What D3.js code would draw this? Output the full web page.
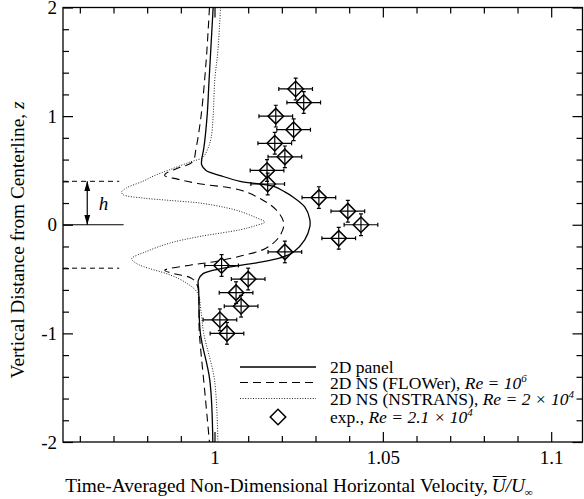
<!DOCTYPE html>
<html>
<head>
<meta charset="utf-8">
<script src="https://cdn.jsdelivr.net/npm/d3@7"></script>
<style>
  body { margin: 0; background: #fff; }
  svg { display: block; }
  text { font-family: "Liberation Serif", "Times New Roman", serif; fill: #000; }
</style>
</head>
<body>
<svg id="chart" width="584" height="499"></svg>
<script>
// Velocity profiles: vertical position z and time-averaged U/U_inf
const panelZ = [2.0, 1.34, 1.0, 0.7, 0.6, 0.55, 0.5, 0.45, 0.4, 0.355, 0.3, 0.256, 0.164, 0.05, -0.02, -0.14, -0.25, -0.3, -0.35, -0.4, -0.45, -0.51, -0.6, -1.0, -1.43, -2.0];
const panelU = [0.9996, 0.9984, 0.9978, 0.9968, 0.9962, 0.9962, 0.9975, 1.002, 1.0076, 1.0174, 1.021, 1.0233, 1.0268, 1.0283, 1.0283, 1.0268, 1.0235, 1.0200, 1.0125, 1.0026, 0.9966, 0.9952, 0.9953, 0.9958, 0.9986, 0.9995];

const flowerZ = [2.0, 1.5, 1.0, 0.7, 0.58, 0.52, 0.47, 0.452, 0.42, 0.38, 0.32, 0.226, 0.134, 0.01, -0.12, -0.22, -0.29, -0.34, -0.37, -0.42, -0.45, -0.49, -0.55, -1.0, -1.5, -2.0];
const flowerU = [0.9985, 0.9975, 0.9960, 0.9945, 0.9935, 0.989, 0.9855, 0.9852, 0.989, 0.995, 1.0076, 1.0144, 1.0184, 1.0206, 1.019, 1.015, 1.0075, 1.0, 0.993, 0.9852, 0.988, 0.993, 0.9948, 0.9955, 0.997, 0.9985];

const nstransZ = [2.0, 1.6, 1.34, 1.0, 0.8, 0.7, 0.62, 0.58, 0.507, 0.45, 0.4, 0.338, 0.3, 0.276, 0.246, 0.224, 0.2, 0.16, 0.123, 0.07, 0.025, -0.01, -0.046, -0.108, -0.169, -0.246, -0.313, -0.35, -0.384, -0.461, -0.537, -0.63, -0.8, -1.0, -1.43, -2.0];
const nstransU = [1.0018, 1.001, 1.0001, 0.9996, 0.999, 0.998, 0.9965, 0.993, 0.9867, 0.982, 0.9787, 0.9738, 0.9724, 0.9729, 0.9787, 0.9867, 0.9956, 1.003, 1.0076, 1.012, 1.0149, 1.012, 1.0076, 0.9956, 0.9867, 0.9798, 0.9754, 0.9765, 0.9788, 0.9867, 0.9917, 0.995, 0.996, 0.9968, 1.0, 1.001];

// Experiment, Re = 2.1e4
const expZ = [1.25, 1.125, 1.0, 0.875, 0.75, 0.625, 0.5, 0.375, 0.25, 0.125, 0.0, -0.125, -0.25, -0.375, -0.5, -0.625, -0.75, -0.875, -1.0];
const expU = [1.0241, 1.0265, 1.0182, 1.0235, 1.0179, 1.0209, 1.0156, 1.0158, 1.0310, 1.0396, 1.0435, 1.0369, 1.0209, 1.0021, 1.0100, 1.0064, 1.0079, 1.0016, 1.0037];
const expUErr = [0.005, 0.005, 0.005, 0.005, 0.005, 0.005, 0.005, 0.005, 0.005, 0.005, 0.005, 0.005, 0.005, 0.005, 0.005, 0.005, 0.005, 0.005, 0.005];
const expZErr = [0.1, 0.1, 0.1, 0.1, 0.1, 0.1, 0.1, 0.1, 0.1, 0.1, 0.1, 0.1, 0.1, 0.1, 0.1, 0.1, 0.1, 0.1, 0.1];

// Axes
const xDomain = [0.955, 1.1093];
const yDomain = [-2, 2];
const xMajor = [1, 1.05, 1.1];
const xMinor = [0.96, 0.97, 0.98, 0.99, 1.01, 1.02, 1.03, 1.04, 1.06, 1.07, 1.08, 1.09];
const xTickLabels = ["1", "1.05", "1.1"];
const yMajor = [-2, -1, 0, 1, 2];
const yMinor = [-1.8, -1.6, -1.4, -1.2, -0.8, -0.6, -0.4, -0.2, 0.2, 0.4, 0.6, 0.8, 1.2, 1.4, 1.6, 1.8];
const yTickLabels = ["-2", "-1", "0", "1", "2"];

// Gap height annotation
const gapH = 0.4;

const svg = d3.select("#chart");
const W = 584, H = 499;
const plot = { left: 63, right: 582.5, top: 7.5, bottom: 442 };

const x = d3.scaleLinear().domain(xDomain).range([plot.left, plot.right]);
const y = d3.scaleLinear().domain(yDomain).range([plot.bottom, plot.top]);

svg.append("rect").attr("width", W).attr("height", H).attr("fill", "#fff");

const defs = svg.append("defs");
defs.append("clipPath").attr("id", "clip")
  .append("rect").attr("x", plot.left).attr("y", plot.top)
  .attr("width", plot.right - plot.left).attr("height", plot.bottom - plot.top);
defs.append("marker").attr("id", "ahead").attr("viewBox", "0 0 10 10")
  .attr("refX", 10).attr("refY", 5).attr("markerWidth", 10).attr("markerHeight", 10)
  .attr("markerUnits", "userSpaceOnUse").attr("orient", "auto-start-reverse")
  .append("path").attr("d", "M0,2 L10,5 L0,8 Z").attr("fill", "#000");

// Tick marks on all four sides, pointing inward
function styleAxis(g) {
  g.select(".domain").remove();
  g.selectAll(".tick line").attr("stroke", "#000").attr("stroke-width", 1.2);
  g.selectAll(".tick text").style("font-size", "19px").attr("fill", "#000")
    .style("font-family", '"Liberation Serif", "Times New Roman", serif');
}
svg.append("g").attr("transform", `translate(0,${plot.bottom})`)
  .call(d3.axisBottom(x).tickValues(xMinor).tickSize(-6).tickFormat("")).call(styleAxis);
svg.append("g").attr("transform", `translate(0,${plot.bottom})`)
  .call(d3.axisBottom(x).tickValues(xMajor).tickSize(-10).tickPadding(9)
    .tickFormat((d, i) => xTickLabels[i])).call(styleAxis);
svg.append("g").attr("transform", `translate(0,${plot.top})`)
  .call(d3.axisTop(x).tickValues(xMinor).tickSize(-6).tickFormat("")).call(styleAxis);
svg.append("g").attr("transform", `translate(0,${plot.top})`)
  .call(d3.axisTop(x).tickValues(xMajor).tickSize(-10).tickFormat("")).call(styleAxis);
svg.append("g").attr("transform", `translate(${plot.left},0)`)
  .call(d3.axisLeft(y).tickValues(yMinor).tickSize(-6).tickFormat("")).call(styleAxis);
svg.append("g").attr("transform", `translate(${plot.left},0)`)
  .call(d3.axisLeft(y).tickValues(yMajor).tickSize(-10).tickPadding(6)
    .tickFormat((d, i) => yTickLabels[i])).call(styleAxis);
svg.append("g").attr("transform", `translate(${plot.right},0)`)
  .call(d3.axisRight(y).tickValues(yMinor).tickSize(-6).tickFormat("")).call(styleAxis);
svg.append("g").attr("transform", `translate(${plot.right},0)`)
  .call(d3.axisRight(y).tickValues(yMajor).tickSize(-10).tickFormat("")).call(styleAxis);

svg.append("rect").attr("x", plot.left).attr("y", plot.top)
  .attr("width", plot.right - plot.left).attr("height", plot.bottom - plot.top)
  .attr("fill", "none").attr("stroke", "#000").attr("stroke-width", 1.3);

const body = svg.append("g").attr("clip-path", "url(#clip)");

// Gap annotation: dashed edges at +/- h, centerline, double arrow and label
const annoEnd = 0.9717;
[gapH, -gapH].forEach(z => {
  body.append("line").attr("x1", x(xDomain[0])).attr("x2", x(annoEnd))
    .attr("y1", y(z)).attr("y2", y(z))
    .attr("stroke", "#000").attr("stroke-width", 1).attr("stroke-dasharray", "5,4");
});
body.append("line").attr("x1", x(xDomain[0])).attr("x2", x(0.973))
  .attr("y1", y(0)).attr("y2", y(0)).attr("stroke", "#000").attr("stroke-width", 1.2);
body.append("line").attr("x1", x(0.9622)).attr("x2", x(0.9622))
  .attr("y1", y(gapH)).attr("y2", y(0))
  .attr("stroke", "#000").attr("stroke-width", 1.2)
  .attr("marker-start", "url(#ahead)").attr("marker-end", "url(#ahead)");
svg.append("text").attr("x", x(0.9656)).attr("y", y(gapH / 2) + 7)
  .style("font-size", "19px").style("font-style", "italic").text("h");

// Profiles
const line = d3.line().x(d => x(d[1])).y(d => y(d[0])).curve(d3.curveCatmullRom.alpha(0.5));
const series = [
  { z: nstransZ, u: nstransU, dash: "1,1.6", width: 1, color: "#222" },
  { z: flowerZ, u: flowerU, dash: "8,5", width: 1.1, color: "#000" },
  { z: panelZ, u: panelU, dash: null, width: 1.3, color: "#000" }
];
series.forEach(s => {
  body.append("path").datum(d3.zip(s.z, s.u)).attr("d", line)
    .attr("fill", "none").attr("stroke", s.color).attr("stroke-width", s.width)
    .attr("stroke-dasharray", s.dash);
});

// Experimental points with error bars
const diamond = d3.symbol().type(d3.symbolSquare).size(120);
const pts = expZ.map((z, i) => ({ z, u: expU[i], eu: expUErr[i], ez: expZErr[i] }));
const eb = body.append("g").attr("stroke", "#000").attr("stroke-width", 1.2);
pts.forEach(p => {
  const cx = x(p.u), cy = y(p.z);
  const xl = x(p.u - p.eu), xr = x(p.u + p.eu), yt = y(p.z + p.ez), yb = y(p.z - p.ez);
  eb.append("line").attr("x1", xl).attr("x2", xr).attr("y1", cy).attr("y2", cy);
  eb.append("line").attr("x1", cx).attr("x2", cx).attr("y1", yt).attr("y2", yb);
  eb.append("line").attr("x1", xl).attr("x2", xl).attr("y1", cy - 2).attr("y2", cy + 2);
  eb.append("line").attr("x1", xr).attr("x2", xr).attr("y1", cy - 2).attr("y2", cy + 2);
  eb.append("line").attr("x1", cx - 2).attr("x2", cx + 2).attr("y1", yt).attr("y2", yt);
  eb.append("line").attr("x1", cx - 2).attr("x2", cx + 2).attr("y1", yb).attr("y2", yb);
});
body.append("g").selectAll("path").data(pts).join("path")
  .attr("d", diamond)
  .attr("transform", p => `translate(${x(p.u)},${y(p.z)}) rotate(45)`)
  .attr("fill", "none").attr("stroke", "#000").attr("stroke-width", 1.5);

// Legend
const legendItems = [
  { kind: "solid", pre: "2D panel", re: "", sup: "" },
  { kind: "dash", pre: "2D NS (FLOWer), ", re: "Re = 10", sup: "6" },
  { kind: "dot", pre: "2D NS (NSTRANS), ", re: "Re = 2 × 10", sup: "4" },
  { kind: "exp", pre: "exp., ", re: "Re = 2.1 × 10", sup: "4" }
];
const legendRowY = [367, 382.5, 398.5, 417];
const lg = svg.append("g");
const lx0 = 240, lx1 = 316, ltx = 330;
legendItems.forEach((it, i) => {
  const ly = legendRowY[i];
  if (it.kind === "exp") {
    lg.append("path").attr("d", diamond)
      .attr("transform", `translate(${(lx0 + lx1) / 2},${ly}) rotate(45)`)
      .attr("fill", "none").attr("stroke", "#000").attr("stroke-width", 1.5);
  } else {
    const s = it.kind === "solid" ? series[2] : it.kind === "dash" ? series[1] : series[0];
    lg.append("line").attr("x1", lx0).attr("x2", lx1).attr("y1", ly).attr("y2", ly)
      .attr("stroke", s.color).attr("stroke-width", s.width).attr("stroke-dasharray", s.dash);
  }
  const t = lg.append("text").attr("x", ltx).attr("y", ly + 6).style("font-size", "17.5px");
  t.append("tspan").text(it.pre);
  if (it.re) {
    t.append("tspan").style("font-style", "italic").text(it.re);
    t.append("tspan").style("font-style", "italic").style("font-size", "11px")
      .attr("dy", -7).text(it.sup);
  }
});

// Axis titles
const yt = svg.append("text")
  .attr("transform", `translate(17,240) rotate(-90)`)
  .attr("text-anchor", "middle").attr("dominant-baseline", "central")
  .style("font-size", "19.3px");
yt.append("tspan").text("Vertical Distance from Centerline, ");
yt.append("tspan").style("font-style", "italic").text("z");

const titleY = 492;
const xt = svg.append("text").attr("x", 299).attr("y", titleY)
  .attr("text-anchor", "middle").style("font-size", "19.3px");
xt.append("tspan").text("Time-Averaged Non-Dimensional Horizontal Velocity,\u2009");
xt.append("tspan").style("font-style", "italic").text("U");
xt.append("tspan").style("font-style", "italic").text("/U");
xt.append("tspan").style("font-style", "italic").style("font-size", "11px").attr("dy", 4).text("\u221e");

// Overline above the mean-velocity symbol
const node = xt.node();
const first = node.firstChild.textContent.length;
const s0 = node.getStartPositionOfChar(first);
const e0 = node.getEndPositionOfChar(first);
svg.append("line").attr("x1", s0.x + 1).attr("x2", e0.x + 1)
  .attr("y1", titleY - 15.5).attr("y2", titleY - 15.5).attr("stroke", "#000").attr("stroke-width", 1);
</script>
</body>
</html>
